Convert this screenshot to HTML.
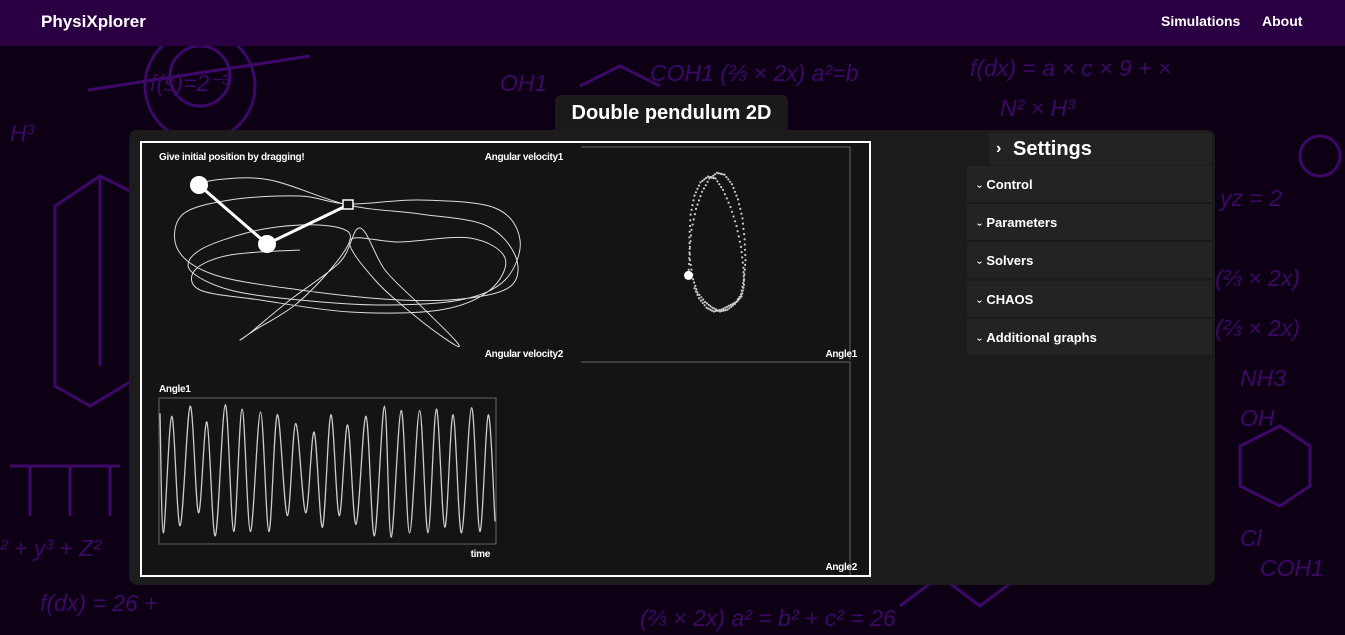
<!DOCTYPE html>
<html><head><meta charset="utf-8">
<style>
*{margin:0;padding:0;box-sizing:border-box}
body{width:1345px;height:635px;overflow:hidden;background:#0d0015;font-family:"Liberation Sans",sans-serif;position:relative}
.nav{position:absolute;left:0;top:0;width:1345px;height:46px;background:#2a0042;color:#fff;font-weight:bold}
.brand{position:absolute;left:41px;top:12px;font-size:17px}
.navlink{position:absolute;top:13px;font-size:14px}
.title{position:absolute;left:555px;top:95px;width:233px;height:36px;background:#1a1a1a;border-radius:6px 6px 0 0;color:#fff;font-weight:bold;font-size:20px;text-align:center;line-height:36px}
.panel{position:absolute;left:129px;top:130px;width:1086px;height:455px;background:#1c1c1c;border-radius:8px}
.canvas{position:absolute;left:140px;top:141px;width:731px;height:436px;border:2px solid #fff;background:#141414}
.set-head{position:absolute;left:989px;top:133px;width:223px;height:32px;background:#232323;border-radius:4px;color:#fff;font-weight:bold;font-size:20px;line-height:32px;padding-left:24px}
.set-head span{position:absolute;left:7px;font-size:16px}
.fold{position:absolute;left:967px;width:245px;height:37px;background:#232323;border-bottom:1px solid #191919;color:#fff;font-weight:bold;font-size:13px;line-height:37px;padding-left:11px}
.fold i{display:inline-block;font-style:normal;transform:rotate(90deg);font-size:10px;margin-right:5px}
</style></head><body>
<div class="nav">
<div class="brand">PhysiXplorer</div>
<div class="navlink" style="left:1161px">Simulations</div>
<div class="navlink" style="left:1262px">About</div>
</div>
<svg style="position:absolute;left:0;top:46px" width="1345" height="589">
<g stroke="#3d0868" stroke-width="3" fill="none">
<line x1="88" y1="44" x2="310" y2="10"/><circle cx="200" cy="40" r="55"/><circle cx="200" cy="30" r="30"/>
<path d="M55 160 L100 130 L140 150 L140 330 L90 360 L55 340 Z"/><path d="M100 130 L100 320"/>
<path d="M10 420 L120 420 M30 420 L30 470 M70 420 L70 470 M110 420 L110 470"/>
<path d="M1240 400 L1280 380 L1310 400 L1310 440 L1280 460 L1240 440 Z"/>
<circle cx="1320" cy="110" r="20"/>
<path d="M900 560 L940 530 L980 560 L1020 530"/>
<path d="M580 40 L620 20 L660 40"/>
</g>
<g fill="#3d0868" font-family="Liberation Sans" font-size="23" font-style="italic">
<text x="150" y="45">f(s)=2⁻³</text><text x="10" y="95">H³</text>
<text x="650" y="35">COH1 (⅔ × 2x) a²=b</text><text x="970" y="30">f(dx) = a × c × 9 + ×</text>
<text x="1000" y="70">N² × H³</text><text x="1220" y="160">yz = 2</text>
<text x="1215" y="240">(⅔ × 2x)</text><text x="1215" y="290">(⅔ × 2x)</text>
<text x="1240" y="340">NH3</text><text x="1240" y="380">OH</text>
<text x="0" y="510">² + y³ + Z²</text><text x="40" y="565">f(dx) = 26 +</text>
<text x="640" y="580">(⅔ × 2x) a² = b² + c² = 26</text><text x="1260" y="530">COH1</text>
<text x="500" y="45">OH1</text><text x="1240" y="500">Cl</text>
</g>
</svg>
<div class="title">Double pendulum 2D</div>
<div class="panel"></div>
<div class="canvas"></div>
<svg id="sim" style="position:absolute;left:0;top:0" width="1345" height="635"></svg>
<div class="set-head"><span>›</span>Settings</div>
<div class="fold" style="top:166px"><i>›</i>Control</div>
<div class="fold" style="top:204px"><i>›</i>Parameters</div>
<div class="fold" style="top:242px"><i>›</i>Solvers</div>
<div class="fold" style="top:281px"><i>›</i>CHAOS</div>
<div class="fold" style="top:319px"><i>›</i>Additional graphs</div>
<script>
// Angle1 time-series extrema (time 0..20, value 0..100)
const angleTimes=[0,0.2,0.7,1.2,1.8,2.3,2.8,3.3,3.9,4.4,4.9,5.4,6.0,6.5,7.0,7.6,8.1,8.7,9.2,9.7,10.2,10.7,11.2,11.7,12.3,12.8,13.4,13.8,14.4,14.9,15.5,16.0,16.5,17.0,17.5,18.0,18.6,19.1,19.6,20.0];
const angleValues=[90,7,88,12,95,21,84,5,96,8,93,8,91,8,89,19,83,21,77,11,89,19,82,13,88,5,95,4,92,7,92,7,93,11,89,7,94,8,89,15];
// Phase portrait (angle1 vs angular velocity1)
const phaseAngles=[-0.75,-0.72,-0.65,-0.5,-0.3,-0.05,0.2,0.45,0.7,0.9,1.05,1.12,1.15,1.1,1.0,0.8,0.55,0.3,0.05,-0.2,-0.45,-0.6,-0.7,-0.72,-0.68,-0.55,-0.35,-0.1,0.15,0.4,0.65,0.85,1.0,1.08,1.1,1.02,0.85,0.6,0.35,0.1,-0.15,-0.4,-0.6];
const phaseVelocities=[-0.8,-0.2,0.4,0.95,1.4,1.75,1.9,1.85,1.6,1.2,0.7,0.15,-0.4,-0.9,-1.3,-1.55,-1.7,-1.75,-1.65,-1.5,-1.25,-0.9,-0.4,0.2,0.8,1.3,1.65,1.8,1.75,1.45,1.0,0.5,-0.05,-0.6,-1.05,-1.35,-1.5,-1.6,-1.7,-1.75,-1.65,-1.4,-1.05];
// Bob-2 trajectory (x,y in canvas units)
const trajX=[192,215,270,348,420,485,515,512,470,400,300,215,178,182,230,300,348,420,495,520,505,460,380,300,230,190,200,250,300,340,350,330,295,255,240,250,290,340,360,385,420,455,455,420,375,350,400,470,505,490,440,350,260,200,195,230,300];
const trajY=[188,180,180,205,214,225,255,285,298,300,290,275,250,215,200,196,204,200,208,240,280,300,305,300,290,270,250,232,225,228,240,270,305,330,340,333,300,262,228,270,305,340,345,320,280,240,242,238,258,290,310,312,300,290,270,255,250];
const svg=document.getElementById('sim');const NS='http://www.w3.org/2000/svg';
function mk(t,a){const e=document.createElementNS(NS,t);for(const k in a)e.setAttribute(k,a[k]);svg.appendChild(e);return e;}
function smooth(pts){let d='M'+pts[0][0]+' '+pts[0][1];for(let i=0;i<pts.length-1;i++){const p0=pts[Math.max(0,i-1)],p1=pts[i],p2=pts[i+1],p3=pts[Math.min(pts.length-1,i+2)];
d+=' C'+(p1[0]+(p2[0]-p0[0])/6).toFixed(1)+' '+(p1[1]+(p2[1]-p0[1])/6).toFixed(1)+' '+(p2[0]-(p3[0]-p1[0])/6).toFixed(1)+' '+(p2[1]-(p3[1]-p1[1])/6).toFixed(1)+' '+p2[0]+' '+p2[1];}return d;}
function txt(x,y,s,name,anchor){const t=mk('text',{x:x,y:y,fill:'#fff','font-size':'10','font-weight':'bold','font-family':'Liberation Sans','text-anchor':anchor||'start','letter-spacing':'-0.3'});t.textContent=s;

}
const f1=mk('rect',{x:159,y:398,width:337,height:146,fill:'none',stroke:'#666','stroke-width':1});


const f2=mk('path',{d:'M581 147 H850 V360 M581 362 H850 V575',fill:'none',stroke:'#666','stroke-width':1});


const tp=trajX.map((x,i)=>[x,trajY[i]]);
const tr=mk('path',{d:smooth(tp),fill:'none',stroke:'#ddd','stroke-width':1});


const rod=mk('polyline',{points:'348,205 267,244 199,185',fill:'none',stroke:'#fff','stroke-width':3});


const piv=mk('rect',{x:343,y:200,width:10,height:9,fill:'#141414',stroke:'#fff','stroke-width':1.5});


const b1=mk('circle',{cx:267,cy:244,r:9,fill:'#fff'});


const b2=mk('circle',{cx:199,cy:185,r:9,fill:'#fff'});


const ax=t=>160+t/20*335, ay=v=>543-v/100*144;
const ap=angleTimes.map((t,i)=>[+ax(t).toFixed(1),+ay(angleValues[i]).toFixed(1)]);
const al=mk('path',{d:smooth(ap),fill:'none',stroke:'#ccc','stroke-width':1.3});


const px=a=>711+a*30, py=v=>245-v*38;
const pp=phaseAngles.map((a,i)=>[px(a),py(phaseVelocities[i])]);
for(let i=0;i<pp.length-1;i++){for(let k=0;k<4;k++){const u=k/4;const d=mk('circle',{cx:(pp[i][0]+(pp[i+1][0]-pp[i][0])*u).toFixed(1),cy:(pp[i][1]+(pp[i+1][1]-pp[i][1])*u).toFixed(1),r:1.1,fill:'#ccc'});

}}
const pc=mk('circle',{cx:px(phaseAngles[0]),cy:py(phaseVelocities[0]),r:4.5,fill:'#fff'});


txt(159,160,'Give initial position by dragging!','drag-hint');
txt(563,160,'Angular velocity1','phase1-y-label','end');
txt(563,357,'Angular velocity2','phase2-y-label','end');
txt(857,357,'Angle1','phase1-x-label','end');
txt(857,570,'Angle2','phase2-x-label','end');
txt(159,392,'Angle1','angle1-y-label');
txt(490,557,'time','time-axis-label','end');
</script>
</body></html>
